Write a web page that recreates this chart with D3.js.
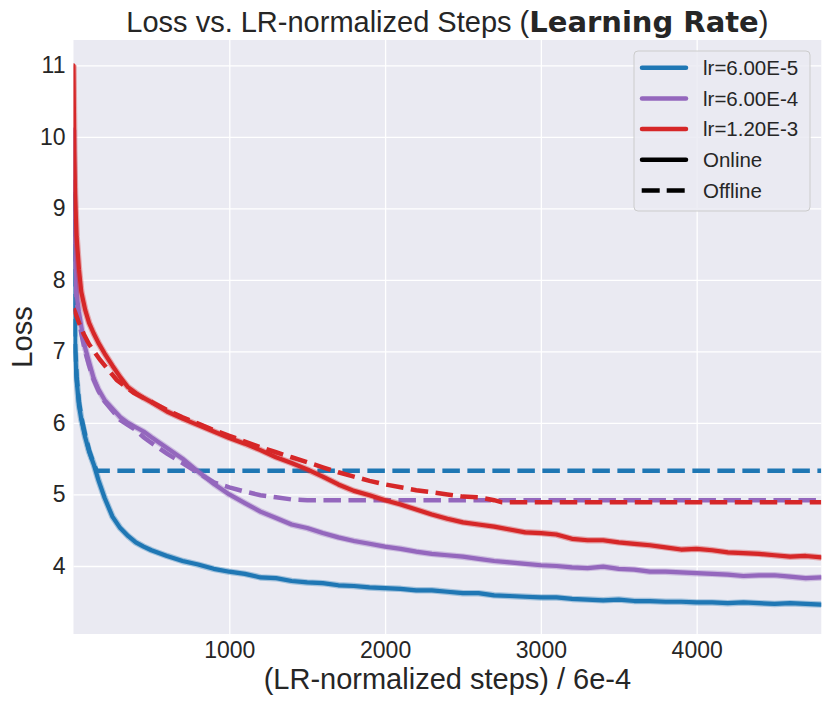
<!DOCTYPE html>
<html>
<head>
<meta charset="utf-8">
<script src="https://cdn.jsdelivr.net/npm/d3@7"></script>
<style>
  body { margin: 0; background: #fff; }
  svg { display: block; }
</style>
</head>
<body>
<svg></svg>
<script>
const width = 831;
const height = 704;

// steps grid shared by the online runs
const onlineSteps = [0, 5, 10, 20, 35, 50, 75, 100, 130, 160, 200, 250, 300, 350, 400, 450,
  500, 600, 700, 800, 900, 1000, 1100, 1200, 1300, 1400, 1500, 1600, 1700, 1800, 1900,
  2000, 2100, 2200, 2300, 2400, 2500, 2600, 2700, 2800, 2900, 3000, 3100, 3200, 3300,
  3400, 3500, 3600, 3700, 3800, 3900, 4000, 4100, 4200, 4300, 4400, 4500, 4600, 4700, 4800];

const onlineLoss6e5 = [9.2, 7.8, 7.0, 6.6, 6.25, 6.05, 5.8, 5.6, 5.42, 5.2, 4.95, 4.69, 4.53, 4.42, 4.33, 4.27,
  4.22, 4.14, 4.07, 4.02, 3.96, 3.92, 3.89, 3.84, 3.83, 3.79, 3.77, 3.76, 3.73, 3.72, 3.70,
  3.69, 3.68, 3.66, 3.66, 3.64, 3.62, 3.62, 3.59, 3.58, 3.57, 3.56, 3.56, 3.54, 3.53,
  3.52, 3.53, 3.51, 3.51, 3.50, 3.50, 3.49, 3.49, 3.48, 3.49, 3.48, 3.47, 3.48, 3.47, 3.46];

const onlineLoss6e4 = [10.1, 9.3, 8.7, 7.8, 7.55, 7.35, 7.05, 6.85, 6.62, 6.47, 6.32, 6.2, 6.08, 6.0, 5.94, 5.88,
  5.8, 5.65, 5.5, 5.32, 5.15, 5.0, 4.88, 4.76, 4.67, 4.58, 4.53, 4.46, 4.40, 4.35, 4.31,
  4.27, 4.24, 4.2, 4.17, 4.15, 4.13, 4.1, 4.07, 4.05, 4.03, 4.01, 4.0, 3.98, 3.97,
  3.99, 3.96, 3.95, 3.92, 3.92, 3.91, 3.90, 3.89, 3.88, 3.86, 3.87, 3.87, 3.85, 3.83, 3.84];

const onlineLoss12e4 = [11.0, 9.8, 9.2, 8.6, 8.15, 7.83, 7.58, 7.4, 7.25, 7.12, 6.97, 6.8, 6.64, 6.5, 6.42, 6.35,
  6.29, 6.16, 6.06, 5.97, 5.88, 5.79, 5.71, 5.62, 5.52, 5.44, 5.35, 5.25, 5.14, 5.05, 4.99,
  4.92, 4.86, 4.79, 4.72, 4.66, 4.61, 4.58, 4.55, 4.51, 4.47, 4.46, 4.44, 4.38, 4.36,
  4.36, 4.33, 4.31, 4.29, 4.26, 4.23, 4.24, 4.22, 4.19, 4.18, 4.17, 4.15, 4.13, 4.14, 4.12];

// offline runs
const offlineSteps6e5 = [0, 5, 10, 20, 35, 50, 75, 100, 130, 150, 4800];
const offlineLoss6e5 = [9.2, 7.9, 7.1, 6.65, 6.3, 6.08, 5.83, 5.62, 5.42, 5.33, 5.33];

const offlineSteps6e4 = [0, 5, 10, 20, 35, 50, 75, 100, 130, 160, 200, 250, 300, 350, 400, 450,
  500, 600, 700, 800, 900, 1000, 1100, 1200, 1300, 1400, 1500, 4800];
const offlineLoss6e4 = [9.4, 8.9, 8.4, 7.7, 7.45, 7.25, 7.0, 6.8, 6.6, 6.45, 6.3, 6.17, 6.04, 5.97, 5.9, 5.8,
  5.72, 5.57, 5.44, 5.3, 5.17, 5.1, 5.04, 4.99, 4.96, 4.93, 4.92, 4.92];

const offlineSteps12e4 = [0, 10, 35, 64, 100, 171, 278, 386, 514, 600, 700, 800, 900, 1000, 1100, 1200,
  1300, 1400, 1500, 1600, 1700, 1800, 1900, 2000, 2100, 2200, 2300, 2400, 2500, 2600, 2700, 2750, 4800];
const offlineLoss12e4 = [7.6, 7.55, 7.4, 7.25, 7.1, 6.88, 6.6, 6.42, 6.28, 6.18, 6.08, 5.99, 5.9, 5.82, 5.74, 5.66,
  5.59, 5.52, 5.45, 5.38, 5.31, 5.25, 5.19, 5.14, 5.1, 5.06, 5.03, 5.0, 4.97, 4.96, 4.92, 4.89, 4.89];

const lrLabels = ["lr=6.00E-5", "lr=6.00E-4", "lr=1.20E-3"];
const lrColors = ["#1f77b4", "#9467bd", "#d62728"];
const xTicks = [1000, 2000, 3000, 4000];
const yTicks = [4, 5, 6, 7, 8, 9, 10, 11];

const runs = [
  { steps: onlineSteps, loss: onlineLoss6e5, color: lrColors[0], dashed: false },
  { steps: offlineSteps6e5, loss: offlineLoss6e5, color: lrColors[0], dashed: true },
  { steps: onlineSteps, loss: onlineLoss6e4, color: lrColors[1], dashed: false },
  { steps: offlineSteps6e4, loss: offlineLoss6e4, color: lrColors[1], dashed: true },
  { steps: onlineSteps, loss: onlineLoss12e4, color: lrColors[2], dashed: false },
  { steps: offlineSteps12e4, loss: offlineLoss12e4, color: lrColors[2], dashed: true }
];

const svg = d3.select("svg")
  .attr("width", width)
  .attr("height", height);

const x = d3.scaleLinear()
  .domain([0, 4800])
  .range([73.5, 821.3]);

const y = d3.scaleLinear()
  .domain([3.049, 11.354])
  .range([634, 40]);

const textColor = "#262626";
const font = "'Liberation Sans', Arial, sans-serif";

// plot background
svg.append("rect")
  .attr("x", x.range()[0])
  .attr("y", y.range()[1])
  .attr("width", x.range()[1] - x.range()[0])
  .attr("height", y.range()[0] - y.range()[1])
  .attr("fill", "#eaeaf2");

svg.append("clipPath").attr("id", "plot-clip")
  .append("rect")
  .attr("x", x.range()[0])
  .attr("y", y.range()[1])
  .attr("width", x.range()[1] - x.range()[0])
  .attr("height", y.range()[0] - y.range()[1]);

// grid + tick labels
const xAxis = d3.axisBottom(x)
  .tickValues(xTicks)
  .tickSize(-(y.range()[0] - y.range()[1]))
  .tickPadding(8)
  .tickFormat(d3.format("d"));

const yAxis = d3.axisLeft(y)
  .tickValues(yTicks)
  .tickSize(-(x.range()[1] - x.range()[0]))
  .tickPadding(8)
  .tickFormat(d3.format("d"));

const gx = svg.append("g")
  .attr("transform", `translate(0, ${y.range()[0]})`)
  .call(xAxis);

const gy = svg.append("g")
  .attr("transform", `translate(${x.range()[0]}, 0)`)
  .call(yAxis);

[gx, gy].forEach(g => {
  g.select(".domain").remove();
  g.selectAll(".tick line").attr("stroke", "#fff").attr("stroke-width", 1.3);
  g.selectAll(".tick text")
    .attr("fill", textColor)
    .style("font-family", font)
    .style("font-size", "23px");
});
gx.selectAll(".tick text").attr("dy", "0.72em").attr("y", 7);
gy.selectAll(".tick text").attr("x", -8);

// curves
const line = d3.line()
  .x(d => x(d[0]))
  .y(d => y(d[1]));

const curves = svg.append("g").attr("clip-path", "url(#plot-clip)");

runs.forEach(run => {
  const pts = run.steps.map((s, i) => [s, run.loss[i]]);
  if (run.dashed) {
    curves.append("path")
      .attr("d", line(pts))
      .attr("fill", "none")
      .attr("stroke", run.color)
      .attr("stroke-width", 4.5)
      .attr("stroke-dasharray", "17.5 7.5");
  } else {
    // soft halo to mimic the noisy band of the raw curves
    curves.append("path")
      .attr("d", line(pts))
      .attr("fill", "none")
      .attr("stroke", run.color)
      .attr("stroke-opacity", 0.35)
      .attr("stroke-width", 6.5)
      .attr("stroke-linejoin", "round");
    curves.append("path")
      .attr("d", line(pts))
      .attr("fill", "none")
      .attr("stroke", run.color)
      .attr("stroke-width", 4.2)
      .attr("stroke-linejoin", "round")
      .attr("stroke-linecap", "round");
  }
});

// title
const title = svg.append("text")
  .attr("x", (x.range()[0] + x.range()[1]) / 2)
  .attr("y", 32)
  .attr("text-anchor", "middle")
  .attr("fill", textColor)
  .style("font-family", font)
  .style("font-size", "29px");
title.append("tspan").text("Loss vs. LR-normalized Steps (");
title.append("tspan")
  .style("font-family", "'DejaVu Sans', sans-serif")
  .style("font-weight", "bold")
  .text("Learning Rate");
title.append("tspan").text(")");

// axis labels
svg.append("text")
  .attr("x", (x.range()[0] + x.range()[1]) / 2)
  .attr("y", 689)
  .attr("text-anchor", "middle")
  .attr("fill", textColor)
  .style("font-family", font)
  .style("font-size", "29px")
  .text("(LR-normalized steps) / 6e-4");

svg.append("text")
  .attr("transform", `translate(32, ${(y.range()[0] + y.range()[1]) / 2}) rotate(-90)`)
  .attr("text-anchor", "middle")
  .attr("fill", textColor)
  .style("font-family", font)
  .style("font-size", "29px")
  .text("Loss");

// legend
const legendItems = lrLabels.map((label, i) => ({ label, color: lrColors[i], dashed: false }))
  .concat([
    { label: "Online", color: "#000", dashed: false },
    { label: "Offline", color: "#000", dashed: true }
  ]);

const legend = svg.append("g").attr("transform", "translate(634, 51)");

legend.append("rect")
  .attr("width", 176)
  .attr("height", 160)
  .attr("rx", 4)
  .attr("fill", "#eaeaf2")
  .attr("fill-opacity", 0.85)
  .attr("stroke", "#cccccc")
  .attr("stroke-width", 1);

const rows = legend.selectAll(".row")
  .data(legendItems)
  .enter()
  .append("g")
  .attr("class", "row")
  .attr("transform", (d, i) => `translate(0, ${16.7 + i * 30.7})`);

rows.append("line")
  .attr("x1", d => d.dashed ? 7.7 : 8)
  .attr("x2", d => d.dashed ? 51 : 52)
  .attr("stroke", d => d.color)
  .attr("stroke-width", 4.5)
  .attr("stroke-linecap", d => d.dashed ? "butt" : "round")
  .attr("stroke-dasharray", d => d.dashed ? "18 7" : null);

rows.append("text")
  .attr("x", 69)
  .attr("dy", "0.35em")
  .attr("fill", textColor)
  .style("font-family", font)
  .style("font-size", "20.5px")
  .text(d => d.label);
</script>
</body>
</html>
